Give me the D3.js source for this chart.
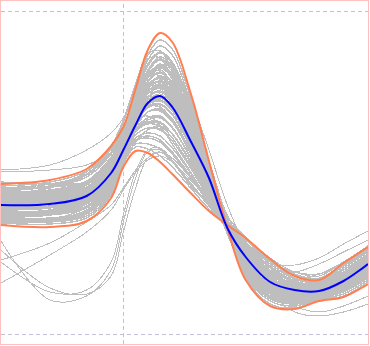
<!DOCTYPE html>
<html>
<head>
<meta charset="utf-8">
<script src="https://cdnjs.cloudflare.com/ajax/libs/d3/7.8.5/d3.min.js"></script>
<style>
  body { margin: 0; background: #fff; }
  svg { display: block; }
</style>
</head>
<body>
<svg id="chart"></svg>
<script>
var width = 370,
    height = 346;

// sample positions shared by every curve
var knots = [0, 0.4, 0.7, 0.9, 1.0, 1.1, 1.2, 1.3, 1.4, 1.55, 1.7, 1.85, 2.0, 2.2, 2.4, 2.6, 2.8, 3.0];

var xTicks = [1];
var yTicks = [0, 323];

var medianCurve = [129, 130, 138, 161, 184, 209, 231, 238, 227, 193, 156, 106, 77, 52, 44, 43, 53, 70];
var highCurve   = [150, 154, 165, 188, 207, 245, 284, 301, 292, 241, 173, 106, 54, 28, 25, 33, 37, 50];
var lowCurve    = [109, 107, 113, 136, 167, 183, 181, 172, 160, 141, 123, 109, 96, 75, 58, 54, 71, 87];

var sampleCurves = [
  [140, 146, 160, 182, 203, 238, 270, 282, 270, 228, 168, 108, 60, 36, 31, 38, 44, 58],
  [146, 150, 160, 185, 212, 248, 275, 276, 255, 205, 150, 100, 62, 38, 33, 38, 46, 60],
  [136, 140, 150, 172, 196, 230, 258, 270, 260, 218, 162, 108, 64, 40, 34, 38, 46, 60],
  [132, 136, 146, 170, 195, 226, 252, 262, 252, 212, 160, 109, 68, 44, 37, 40, 49, 63],
  [141, 142, 150, 170, 192, 222, 247, 256, 246, 206, 156, 108, 70, 46, 38, 41, 50, 66],
  [128, 131, 141, 165, 191, 220, 243, 250, 240, 202, 154, 108, 72, 48, 40, 43, 52, 67],
  [133, 134, 140, 160, 183, 210, 235, 251, 250, 215, 165, 112, 72, 46, 38, 40, 50, 66],
  [126, 128, 137, 160, 188, 216, 237, 242, 232, 196, 151, 107, 73, 50, 41, 44, 53, 68],
  [145, 147, 152, 170, 192, 216, 234, 238, 228, 193, 150, 107, 75, 52, 42, 44, 54, 70],
  [118, 120, 130, 155, 185, 212, 231, 236, 227, 192, 148, 106, 76, 53, 43, 45, 55, 71],
  [131, 132, 138, 160, 186, 211, 228, 230, 220, 186, 146, 107, 77, 54, 44, 45, 56, 72],
  [124, 126, 134, 157, 184, 208, 222, 224, 213, 181, 143, 108, 79, 56, 45, 46, 57, 72],
  [120, 123, 132, 155, 182, 205, 216, 218, 207, 176, 141, 108, 81, 59, 47, 47, 59, 74],
  [122, 121, 128, 150, 179, 202, 212, 212, 200, 171, 138, 108, 83, 61, 48, 48, 61, 76],
  [126, 128, 138, 162, 192, 214, 218, 208, 190, 162, 132, 105, 82, 60, 48, 48, 60, 76],
  [114, 115, 124, 148, 178, 199, 206, 205, 193, 166, 136, 108, 85, 63, 50, 49, 62, 78],
  [117, 116, 123, 146, 177, 196, 201, 198, 186, 161, 133, 108, 88, 66, 51, 50, 64, 80],
  [112, 112, 120, 143, 175, 193, 196, 192, 180, 156, 131, 109, 90, 68, 53, 51, 66, 82],
  [137, 139, 149, 171, 195, 227, 253, 262, 252, 211, 158, 104, 60, 36, 30, 35, 44, 58],
  [135, 138, 147, 170, 195, 226, 252, 261, 250, 212, 160, 110, 74, 50, 44, 48, 60, 76],
  [144, 148, 159, 182, 202, 239, 274, 288, 279, 231, 168, 106, 58, 33, 28, 35, 40, 54],
  [139, 143, 152, 175, 199, 233, 263, 275, 266, 221, 163, 108, 64, 40, 34, 39, 46, 60],
  [137, 139, 147, 166, 192, 222, 252, 268, 268, 230, 173, 115, 66, 38, 32, 38, 45, 58],
  [131, 136, 149, 176, 204, 236, 258, 258, 240, 195, 148, 103, 68, 46, 39, 42, 50, 64],
  [152, 150, 152, 168, 190, 214, 232, 236, 226, 191, 148, 107, 75, 52, 42, 44, 54, 69],
  [110, 114, 127, 154, 185, 211, 228, 230, 220, 186, 146, 107, 77, 54, 44, 45, 56, 72],
  [127, 127, 134, 156, 183, 205, 216, 218, 207, 176, 141, 108, 81, 59, 47, 47, 59, 74],
  [116, 116, 121, 142, 170, 192, 204, 208, 200, 173, 140, 111, 86, 62, 49, 48, 61, 78],
  [129, 131, 141, 164, 190, 217, 237, 243, 233, 197, 151, 110, 80, 58, 50, 52, 62, 76],
  [125, 127, 135, 158, 185, 208, 222, 224, 213, 181, 141, 104, 72, 48, 37, 38, 50, 66],
  [120, 124, 138, 165, 193, 221, 242, 249, 239, 201, 153, 107, 71, 47, 38, 41, 51, 65],
  [143, 148, 162, 188, 214, 250, 280, 283, 264, 214, 156, 102, 60, 36, 31, 37, 43, 57],
  [119, 120, 128, 151, 180, 202, 211, 211, 200, 171, 138, 110, 90, 72, 62, 60, 72, 88],
  [115, 116, 122, 145, 176, 196, 201, 198, 186, 161, 131, 104, 78, 52, 38, 38, 52, 68],
  [136, 138, 147, 170, 194, 224, 248, 256, 245, 206, 156, 107, 69, 45, 37, 40, 49, 64],
  [133, 133, 141, 163, 190, 217, 237, 242, 232, 196, 151, 107, 73, 50, 40, 43, 52, 67],
  [127, 128, 137, 160, 186, 211, 227, 230, 220, 186, 146, 107, 77, 54, 44, 45, 56, 71],
  [133, 138, 151, 175, 197, 230, 258, 268, 259, 216, 160, 107, 65, 40, 33, 38, 46, 59],
  [113, 112, 118, 141, 173, 190, 190, 185, 173, 151, 128, 109, 92, 70, 55, 52, 68, 83],
  [148, 152, 163, 186, 205, 242, 279, 294, 285, 236, 170, 106, 56, 30, 26, 34, 38, 52],
  [130, 133, 145, 170, 198, 230, 256, 264, 250, 208, 156, 106, 66, 42, 35, 39, 47, 62],
  [138, 141, 150, 172, 196, 228, 256, 266, 256, 214, 160, 107, 66, 42, 34, 38, 46, 60],
  [142, 144, 153, 176, 199, 232, 262, 274, 265, 221, 163, 107, 62, 38, 32, 37, 44, 58],
  [146, 148, 157, 180, 202, 236, 268, 281, 272, 226, 166, 106, 60, 35, 30, 36, 42, 56],
  [135, 137, 146, 168, 193, 223, 248, 257, 248, 208, 158, 108, 70, 46, 38, 41, 50, 65],
  [124, 127, 137, 162, 189, 218, 240, 247, 237, 199, 152, 107, 72, 48, 40, 42, 52, 67],
  [131, 133, 142, 165, 190, 218, 237, 243, 233, 196, 151, 107, 73, 49, 40, 42, 52, 67],
  [139, 139, 145, 165, 189, 216, 236, 243, 235, 200, 154, 108, 72, 48, 39, 42, 51, 66],
  [127, 128, 136, 159, 186, 211, 227, 230, 219, 186, 145, 108, 77, 54, 43, 45, 56, 70],
  [133, 133, 139, 160, 185, 210, 226, 229, 219, 186, 146, 108, 78, 55, 45, 46, 57, 72],
  [121, 123, 132, 157, 186, 212, 227, 227, 214, 180, 142, 106, 77, 54, 44, 45, 55, 70],
  [123, 123, 131, 154, 182, 205, 216, 217, 206, 176, 140, 108, 81, 59, 47, 47, 59, 74],
  [128, 127, 133, 153, 180, 203, 214, 216, 206, 177, 141, 109, 82, 59, 47, 47, 59, 75],
  [119, 119, 126, 149, 179, 199, 206, 204, 193, 166, 135, 108, 86, 63, 50, 49, 62, 78],
  [115, 114, 121, 144, 175, 193, 196, 192, 180, 156, 131, 109, 90, 68, 53, 51, 66, 82],
  [120, 120, 127, 150, 180, 202, 210, 208, 196, 168, 137, 108, 84, 62, 49, 48, 60, 76],
  [111, 110, 116, 139, 171, 187, 185, 178, 167, 146, 125, 109, 94, 73, 56, 53, 69, 85],
  [140, 142, 152, 175, 198, 230, 258, 269, 259, 216, 161, 107, 64, 40, 33, 38, 45, 59],
  [136, 138, 147, 170, 194, 224, 248, 256, 246, 206, 156, 107, 69, 44, 36, 40, 49, 63],
  [144, 147, 157, 180, 201, 236, 268, 282, 272, 226, 166, 106, 60, 35, 30, 36, 42, 56],
  [134, 136, 144, 166, 191, 221, 247, 258, 251, 213, 160, 108, 68, 43, 35, 39, 48, 62],
  [129, 132, 143, 168, 196, 226, 250, 255, 240, 198, 150, 105, 70, 47, 39, 42, 51, 66],
  [125, 128, 138, 162, 190, 218, 240, 246, 236, 198, 151, 107, 72, 48, 39, 41, 50, 64],
  [137, 140, 150, 174, 200, 232, 260, 268, 255, 210, 157, 106, 65, 41, 34, 38, 46, 60],
  [122, 124, 134, 158, 186, 212, 230, 234, 224, 190, 148, 108, 76, 52, 42, 44, 54, 70],
  [117, 119, 128, 153, 183, 208, 222, 223, 212, 180, 142, 107, 79, 56, 45, 46, 57, 72],
  [126, 127, 135, 157, 184, 208, 222, 224, 214, 182, 144, 108, 78, 55, 44, 45, 56, 71],
  [130, 131, 138, 160, 186, 212, 229, 233, 223, 189, 148, 108, 76, 52, 42, 44, 54, 69],
  [134, 136, 145, 168, 193, 222, 245, 252, 242, 203, 154, 107, 70, 46, 38, 41, 50, 65],
  [141, 143, 153, 177, 200, 233, 264, 277, 268, 223, 164, 106, 61, 37, 31, 37, 43, 57],
  [128, 130, 138, 160, 186, 212, 230, 236, 227, 193, 150, 108, 76, 53, 44, 46, 56, 71],
  [120, 122, 130, 154, 183, 207, 222, 225, 215, 183, 144, 108, 79, 57, 46, 47, 58, 73],
  [113, 113, 120, 144, 175, 194, 198, 194, 182, 158, 132, 109, 89, 67, 52, 50, 64, 80],
  [133, 135, 144, 167, 192, 222, 246, 253, 243, 204, 155, 107, 71, 47, 39, 42, 51, 66],
  [138, 141, 151, 174, 198, 229, 257, 267, 257, 215, 160, 107, 66, 42, 35, 39, 47, 61]
];

// curves that wander off the band
var strayCurves = [
  [164, 169, 184, 201, 216, 239, 264, 274, 262, 224, 169, 119, 86, 64, 54, 54, 64, 79],
  [162, 164, 169, 184, 204, 234, 262, 274, 266, 234, 184, 129, 89, 64, 52, 49, 59, 74],
  [135, 137, 146, 168, 192, 220, 240, 245, 232, 195, 150, 110, 85, 70, 69, 76, 90, 103],
  [128, 130, 140, 163, 189, 214, 232, 236, 226, 191, 148, 108, 82, 66, 62, 70, 82, 94],
  [140, 142, 150, 172, 195, 224, 246, 252, 240, 200, 152, 108, 80, 62, 56, 60, 72, 88],
  [132, 134, 143, 166, 191, 220, 242, 248, 238, 200, 152, 106, 66, 40, 22, 18, 22, 30],
  [126, 128, 137, 160, 187, 214, 234, 240, 230, 194, 149, 105, 70, 45, 28, 22, 28, 38],
  [93, 34, 38, 64, 112, 156, 182, 184, 172, 149, 129, 112, 94, 72, 58, 55, 68, 84],
  [72, 42, 44, 72, 119, 162, 184, 186, 174, 151, 130, 113, 95, 73, 59, 56, 70, 86],
  [84, 46, 40, 58, 102, 146, 176, 182, 172, 148, 129, 112, 94, 72, 56, 50, 62, 76],
  [51, 79, 102, 124, 144, 162, 174, 178, 172, 154, 134, 116, 96, 74, 60, 56, 68, 82],
  [74, 91, 112, 129, 146, 164, 176, 182, 176, 156, 136, 117, 97, 76, 62, 58, 72, 88]
];

var svg = d3.select('#chart')
    .attr('width', width)
    .attr('height', height);

var x = d3.scaleLinear().domain([0, 3]).range([1, 368]);
var y = d3.scaleLinear().domain([0, 323]).range([334, 11]);

svg.append('clipPath')
    .attr('id', 'plot-clip')
  .append('rect')
    .attr('x', 1).attr('y', 1)
    .attr('width', 367).attr('height', 343);

/**
 * Dashed grid lines
 */
var gridStyle = function(g) {
    g.select('.domain').remove();
    g.selectAll('.tick line')
        .attr('stroke', '#c4c0da')
        .attr('stroke-dasharray', '4,3')
        .attr('shape-rendering', 'crispEdges');
};

svg.append('g')
    .attr('transform', 'translate(1,0)')
    .call(d3.axisLeft(y).tickValues(yTicks).tickSize(-367).tickFormat(''))
    .call(gridStyle);

svg.append('g')
    .attr('transform', 'translate(0,344)')
    .call(d3.axisBottom(x).tickValues(xTicks).tickSize(-343).tickFormat(''))
    .call(gridStyle);

/**
 * Curves
 */
var line = d3.line()
    .x(function(d, i) { return x(knots[i]); })
    .y(function(d) { return y(d); })
    .curve(d3.curveCatmullRom.alpha(0.5));

var curves = svg.append('g').attr('clip-path', 'url(#plot-clip)');

curves.selectAll('path.stray')
    .data(strayCurves)
    .enter()
    .append('path')
    .attr('class', 'stray')
    .attr('d', line)
    .attr('fill', 'none')
    .attr('stroke', '#bebebe')
    .attr('stroke-width', 1)
    .attr('shape-rendering', 'crispEdges');

curves.selectAll('path.sample')
    .data(sampleCurves)
    .enter()
    .append('path')
    .attr('class', 'sample')
    .attr('d', line)
    .attr('fill', 'none')
    .attr('stroke', '#bebebe')
    .attr('stroke-width', 1.4)
    .attr('shape-rendering', 'crispEdges');

curves.selectAll('path.bound')
    .data([highCurve, lowCurve])
    .enter()
    .append('path')
    .attr('class', 'bound')
    .attr('d', line)
    .attr('fill', 'none')
    .attr('stroke', '#ff7f50')
    .attr('stroke-width', 2);

curves.append('path')
    .datum(medianCurve)
    .attr('d', line)
    .attr('fill', 'none')
    .attr('stroke', '#0000ff')
    .attr('stroke-width', 2);

// frame
svg.append('rect')
    .attr('x', 0.5).attr('y', 0.5)
    .attr('width', 368).attr('height', 344)
    .attr('fill', 'none')
    .attr('stroke', '#ffc0c0')
    .attr('shape-rendering', 'crispEdges');
</script>
</body>
</html>
